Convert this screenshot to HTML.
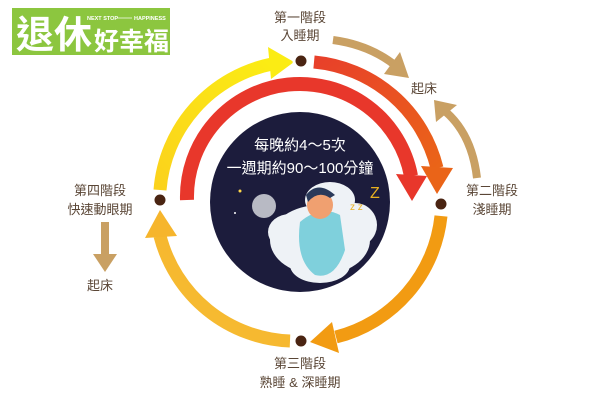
<!DOCTYPE html><html><head><meta charset="utf-8"><style>
body{margin:0;background:#fff;width:600px;height:400px;overflow:hidden;font-family:"Liberation Sans","Noto Sans CJK TC",sans-serif}
</style></head><body>
<svg width="600" height="400" viewBox="0 0 600 400" xmlns="http://www.w3.org/2000/svg" style="font-family:'Liberation Sans','Noto Sans CJK TC',sans-serif">
<defs>
<linearGradient id="gy" x1="0" y1="1" x2="1" y2="0"><stop offset="0" stop-color="#fbd21c"/><stop offset="1" stop-color="#fbec14"/></linearGradient>
<linearGradient id="gr" x1="0" y1="0" x2="1" y2="1"><stop offset="0" stop-color="#e8402a"/><stop offset="1" stop-color="#ea6418"/></linearGradient>
<linearGradient id="gb" x1="1" y1="0" x2="0" y2="1"><stop offset="0" stop-color="#f4b32a"/><stop offset="1" stop-color="#f7bd34"/></linearGradient>
</defs>
<!-- logo -->
<rect x="12" y="8" width="158" height="47" fill="#8cc63f"/>
<text x="16" y="48" font-size="38" font-weight="bold" fill="#fff">退休</text>
<text x="94" y="50" font-size="25" font-weight="bold" fill="#fff">好幸福</text>
<text x="87" y="20" font-size="5.5" font-weight="bold" fill="#fff">NEXT STOP</text>
<line x1="117" y1="18" x2="132" y2="18" stroke="#fff" stroke-width="0.7"/>
<text x="134" y="20" font-size="5.5" font-weight="bold" fill="#fff">HAPPINESS</text>
<!-- dark circle -->
<circle cx="300" cy="202" r="90" fill="#1c1c3c"/>
<text x="300" y="150" font-size="15" fill="#fff" text-anchor="middle">每晚約4～5次</text>
<text x="300" y="173" font-size="15" fill="#fff" text-anchor="middle">一週期約90～100分鐘</text>
<!-- illustration -->
<circle cx="264" cy="206" r="12" fill="#b8bac4"/>
<circle cx="240" cy="191" r="1.5" fill="#ffd84a"/>
<circle cx="235" cy="213" r="1" fill="#fff"/>
<g fill="#eef2f6">
<ellipse cx="320" cy="240" rx="50" ry="35"/><ellipse cx="290" cy="232" rx="22" ry="18"/><ellipse cx="355" cy="225" rx="22" ry="22"/><ellipse cx="330" cy="200" rx="25" ry="18"/><ellipse cx="320" cy="265" rx="30" ry="18"/>
</g>
<path d="M300 222 Q320 205 340 215 L345 250 Q335 280 315 275 Q295 260 300 222Z" fill="#7fd0dc"/>
<ellipse cx="320" cy="205" rx="13" ry="14" fill="#f0a070"/>
<path d="M306 195 Q318 180 335 195 L330 198 Q318 190 308 202Z" fill="#2a3a5a"/>
<text x="350" y="210" font-size="10" fill="#e8b020">z z</text>
<text x="370" y="198" font-size="16" fill="#e8b020">Z</text>
<!-- inner red -->
<path d="M187 200 A113 113 0 0 1 411 176" fill="none" stroke="#e8372b" stroke-width="14"/>
<polygon points="412,201 396,174 427,176" fill="#e8372b"/>
<!-- outer arcs -->
<path d="M160 190 A140 140 0 0 1 272 64" fill="none" stroke="url(#gy)" stroke-width="13"/>
<polygon points="294,62 268,47 271,79" fill="#fbec14"/>
<path d="M314 62 A140 140 0 0 1 437 168" fill="none" stroke="url(#gr)" stroke-width="13"/>
<polygon points="437,194 421,166 453,168" fill="#ea6418"/>
<path d="M441 216 A140 140 0 0 1 336 337" fill="none" stroke="#f29b12" stroke-width="13"/>
<polygon points="310,342 332,322 339,353" fill="#f29b12"/>
<path d="M290 341 A140 140 0 0 1 160 236" fill="none" stroke="url(#gb)" stroke-width="13"/>
<polygon points="160,210 145,238 177,236" fill="#f6b52c"/>
<!-- dots -->
<g fill="#4a2412" stroke="#fff" stroke-width="3">
<circle cx="160" cy="200" r="7"/><circle cx="301" cy="61" r="7"/><circle cx="441" cy="204" r="7"/><circle cx="301" cy="341" r="7"/>
</g>
<!-- tan arrows -->
<g fill="none" stroke="#c9a063" stroke-width="8">
<path d="M333 40 Q370 45 396 66"/>
<path d="M477 178 Q472 135 446 112"/>
<path d="M105 222 L105 256"/>
</g>
<g fill="#c9a063">
<polygon points="409,78 384,74 400,52"/>
<polygon points="434,100 457,105 436,122"/>
<polygon points="105,272 93,254 117,254"/>
</g>
<!-- labels -->
<g font-size="13" fill="#5a4636" text-anchor="middle">
<text x="300" y="22">第一階段</text><text x="300" y="40">入睡期</text>
<text x="424" y="93">起床</text>
<text x="492" y="195">第二階段</text><text x="492" y="214">淺睡期</text>
<text x="100" y="195">第四階段</text><text x="100" y="214">快速動眼期</text>
<text x="100" y="290">起床</text>
<text x="300" y="368">第三階段</text><text x="300" y="387">熟睡 &amp; 深睡期</text>
</g>
</svg>
</body></html>
